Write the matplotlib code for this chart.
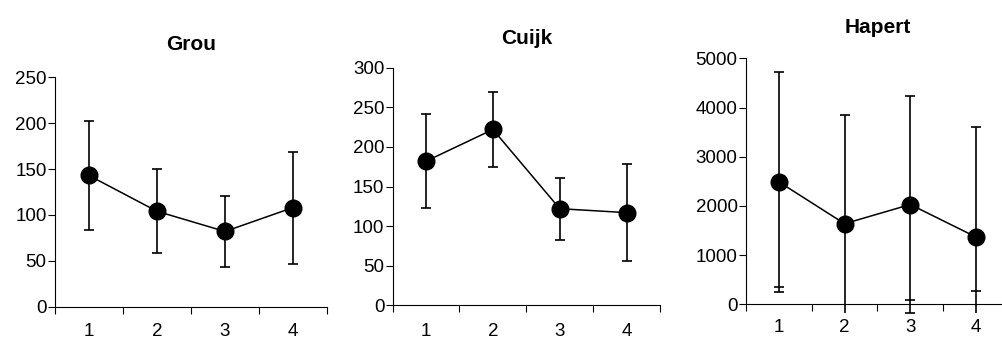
import numpy as np
import matplotlib
matplotlib.use("Agg")
import matplotlib.pyplot as plt

plt.rcParams['font.family'] = ['Liberation Sans', 'DejaVu Sans']

categories = [1, 2, 3, 4]

titles = ['Grou', 'Cuijk', 'Hapert']

grou_mean = [143, 104, 82, 108]
grou_err = [59, 46, 39, 61]

cuijk_mean = [182, 222, 122, 117]
cuijk_err = [59, 47, 39, 61]

hapert_mean = [2490, 1640, 2030, 1370]
hapert_err = [2240, 2210, 2210, 2236]
# second set of lower caps visible in the Hapert panel
hapert_low_caps = [345, np.nan, 87, 270]

y_max = [250, 300, 5000]
y_step = [50, 50, 1000]
y_min = [0, 0, -180]

# axes rectangles in figure fractions
rects = [
    [0.0548, 0.1032, 0.2712, 0.6708],
    [0.3915, 0.1073, 0.2665, 0.6947],
    [0.7438, 0.0839, 0.2620, 0.7456],
]
title_pads = [19.5, 17, 18]
xlabel_pads = [12, 12.5, 10.5]

means = [grou_mean, cuijk_mean, hapert_mean]
errs = [grou_err, cuijk_err, hapert_err]

fig = plt.figure(figsize=(10.03, 3.42), dpi=100)

for i in range(3):
    ax = fig.add_axes(rects[i])
    ax.errorbar(categories, means[i], yerr=errs[i], fmt='none', ecolor='black',
                elinewidth=1.2, capsize=3.6, capthick=1.2, zorder=2)
    ax.plot(categories, means[i], color='black', lw=1.1, marker='o', ms=12,
            mfc='black', mec='black', zorder=3)
    if i == 2:
        ax.plot(categories, hapert_low_caps, ls='none', marker='_', ms=7.2,
                mew=1.2, color='black', zorder=2)

    ax.set_xlim(0.5, 4.5)
    ax.set_ylim(y_min[i], y_max[i])
    ax.set_yticks(np.arange(0, y_max[i] + 1, y_step[i]))
    ax.set_xticks(np.arange(0.5, 4.6, 1))
    ax.set_xticklabels([])
    ax.set_xticks(categories, minor=True)
    ax.set_xticklabels([str(c) for c in categories], minor=True)

    for s in ['top', 'right']:
        ax.spines[s].set_visible(False)
    ax.spines['left'].set_linewidth(0.8)
    ax.spines['bottom'].set_linewidth(0.8)
    if y_min[i] < 0:
        ax.spines['bottom'].set_position(('data', 0))
        ax.spines['left'].set_bounds(0, y_max[i])

    ax.tick_params(axis='y', direction='out', length=5, width=0.8, pad=1,
                   labelsize=13.5)
    ax.tick_params(axis='x', which='major', direction='out', length=5,
                   width=0.8)
    ax.tick_params(axis='x', which='minor', length=0, pad=xlabel_pads[i],
                   labelsize=13.5)

    ax.set_title(titles[i], fontsize=15, fontweight='bold', pad=title_pads[i])

fig.savefig('out.png', dpi=100)
